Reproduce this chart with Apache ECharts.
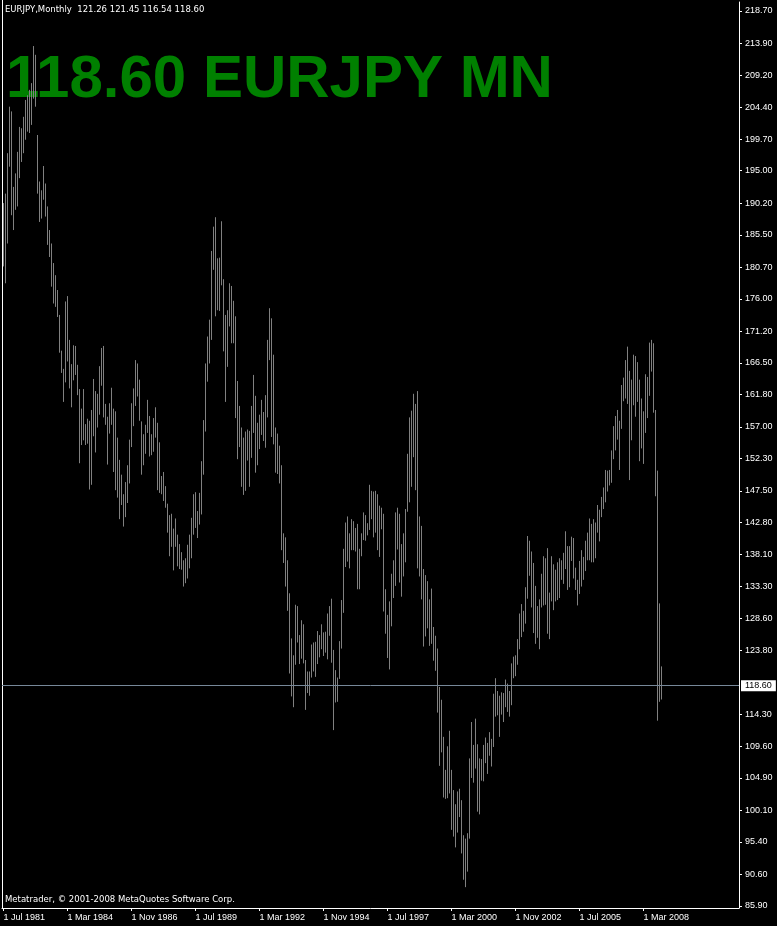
<!DOCTYPE html>
<html><head><meta charset="utf-8">
<style>html,body{margin:0;padding:0;background:#000;}#c{width:777px;height:926px;}</style>
<script src="https://cdn.jsdelivr.net/npm/echarts@6/dist/echarts.min.js"></script>
</head><body><div id="c"></div>
<script>
// Monthly EURJPY bars, starting Jul 1981 (index 0) to Dec 2008 (index 329)
const highs = [
190.2,191.6,197.6,204.5,203.8,192.6,194.6,197.8,201.5,201.3,203.0,205.5,206.2,207.0,208.0,213.5,212.2,200.3,193.4,192.1,
195.7,193.1,189.7,186.2,184.2,181.3,179.5,177.3,173.6,168.3,165.6,175.6,176.4,169.9,166.3,169.1,169.0,166.2,162.6,159.7,
162.6,157.4,158.2,157.9,159.5,164.1,162.3,161.9,166.0,168.7,169.0,160.4,158.5,160.5,162.8,159.7,159.3,155.4,152.1,149.9,
147.0,148.8,151.3,155.1,160.5,162.7,166.9,166.4,164.0,157.8,155.9,157.3,161.0,158.6,155.9,158.3,159.9,157.6,154.7,149.7,
150.3,148.2,145.6,143.9,144.1,141.9,143.4,141.0,139.6,138.4,137.2,137.5,139.5,141.0,143.5,147.0,147.3,144.5,147.2,151.9,
158.0,166.4,170.4,172.9,183.1,186.7,188.1,182.0,182.1,187.5,178.9,173.6,174.3,178.3,177.9,175.7,173.4,163.8,160.1,156.9,
155.4,156.3,156.6,156.4,160.1,164.7,161.6,157.6,158.8,161.0,159.2,161.7,169.9,174.6,173.1,167.7,156.9,156.0,154.2,151.3,
141.2,140.6,137.2,132.3,125.6,123.1,130.6,130.4,126.1,128.3,127.7,122.4,120.7,120.7,124.7,125.0,125.1,126.7,126.1,127.7,
126.5,126.6,129.3,130.4,131.5,123.9,120.9,119.8,125.2,131.3,138.9,142.8,143.7,141.2,143.3,143.0,142.0,142.6,138.9,141.2,
144.3,143.9,142.7,148.4,147.5,147.4,147.5,147.0,145.3,145.0,144.1,132.9,129.1,131.1,135.2,137.2,144.3,145.0,144.1,139.6,
141.2,144.8,153.0,158.4,159.4,161.9,160.4,162.3,143.7,142.3,135.9,135.0,134.1,131.4,133.0,127.3,126.0,124.1,118.4,116.5,
111.0,106.1,109.6,111.9,106.1,103.1,101.0,102.9,103.3,101.6,96.4,95.9,96.7,107.8,113.2,109.8,113.7,109.9,107.8,107.7,
109.8,110.9,110.1,111.7,110.7,117.4,119.7,117.8,117.1,117.6,117.5,119.5,118.9,117.8,121.9,122.9,123.1,125.5,129.3,130.7,
129.7,133.2,140.8,140.1,138.5,136.8,133.4,130.4,131.4,135.2,137.8,137.5,139.0,132.4,137.8,136.6,135.8,136.9,137.5,137.2,
138.3,141.5,139.3,139.3,140.7,140.5,136.1,134.3,137.1,138.7,137.7,140.1,141.3,143.4,142.6,143.3,142.8,145.4,144.7,146.6,
148.0,150.6,150.5,150.6,153.5,157.1,158.6,159.5,157.9,163.2,164.3,166.9,168.9,165.3,164.0,167.7,167.5,166.6,164.0,161.2,
159.3,164.8,164.4,169.5,169.9,169.4,159.5,150.5,130.8,121.45
];
const lows = [
180.8,178.3,184.2,195.6,188.4,186.2,189.2,189.7,193.9,196.3,197.6,199.6,200.8,200.6,201.8,205.7,204.5,191.6,187.4,187.9,
190.7,188.2,184.0,182.2,177.8,175.3,174.8,173.3,168.0,165.0,160.7,163.6,166.7,162.7,159.9,163.9,164.7,161.7,151.6,154.3,
155.0,154.3,154.5,147.7,148.4,155.6,153.2,156.9,158.8,163.1,158.4,157.3,151.4,156.0,157.3,150.3,147.6,146.5,143.3,145.4,
142.2,143.6,145.7,148.6,154.0,157.1,160.1,161.5,157.9,149.9,151.3,153.0,156.1,152.6,152.8,153.3,155.4,147.6,147.2,147.0,
146.0,145.0,141.3,137.8,139.2,135.7,139.2,136.3,135.9,135.8,133.3,133.8,134.5,136.0,137.5,141.0,142.0,140.5,142.5,144.0,
149.9,156.3,163.7,166.4,169.9,180.3,173.4,174.3,174.2,178.0,168.2,160.7,165.9,171.9,169.4,169.4,158.3,152.2,154.0,148.1,
146.9,147.5,152.0,148.1,152.4,156.1,150.2,151.3,153.7,155.8,154.9,153.9,158.4,166.9,155.5,154.4,150.2,150.0,148.6,138.7,
136.8,133.3,129.7,120.4,117.0,115.4,121.7,125.0,121.8,122.6,121.9,115.0,117.5,117.1,119.8,120.7,119.9,121.8,122.8,124.0,
123.0,123.5,122.5,126.0,122.0,112.0,116.1,116.2,119.6,124.1,129.4,136.2,137.0,136.0,138.7,138.7,138.5,132.9,132.9,137.8,
140.2,140.1,140.9,141.7,143.3,140.6,141.3,138.7,137.7,141.8,129.6,126.3,122.7,121.0,127.4,131.6,133.4,138.8,133.9,131.8,
134.8,136.9,144.4,145.8,148.1,152.5,147.6,136.0,134.8,131.4,124.4,125.9,127.1,124.5,124.8,122.3,120.8,114.6,106.7,108.7,
102.0,101.8,101.9,102.6,97.2,96.2,94.6,96.8,99.1,93.7,89.8,88.7,91.0,95.9,104.9,104.2,106.3,99.9,99.5,104.5,
104.4,107.1,105.5,108.2,106.6,109.5,114.0,114.2,111.0,114.3,113.2,115.4,114.7,114.0,115.7,119.7,120.0,121.7,124.0,125.8,
126.6,127.8,131.5,134.9,130.2,126.4,124.8,125.7,124.0,130.2,130.5,130.6,126.3,125.5,131.1,129.8,131.1,131.3,131.6,134.3,
133.7,135.9,132.8,133.2,137.1,134.5,132.8,130.5,132.2,133.3,134.3,135.6,137.2,137.2,136.9,136.9,137.5,141.3,140.0,143.6,
144.8,145.8,147.4,148.3,148.7,152.2,153.5,155.1,150.6,156.7,160.8,161.2,160.4,149.1,155.0,160.2,158.5,160.7,151.9,153.8,
151.5,156.1,158.3,161.6,165.2,159.1,146.7,113.4,116.2,116.54
];
const xTickIndex = [0,32,64,96,128,160,192,224,256,288,320];
const xTickLabels = ["1 Jul 1981","1 Mar 1984","1 Nov 1986","1 Jul 1989","1 Mar 1992","1 Nov 1994","1 Jul 1997","1 Mar 2000","1 Nov 2002","1 Jul 2005","1 Mar 2008"];
const yTickValues = [218.70,213.90,209.20,204.40,199.70,195.00,190.20,185.50,180.70,176.00,171.20,166.50,161.80,157.00,152.30,147.50,142.80,138.10,133.30,128.60,123.80,114.30,109.60,104.90,100.10,95.40,90.60,85.90];
const lastPrice = 118.60;
const headerText = "EURJPY,Monthly  121.26 121.45 116.54 118.60";
const bigTitle = "118.60 EURJPY MN";
const footerText = "Metatrader, \u00a9 2001-2008 MetaQuotes Software Corp.";

const barData = highs.map((h, i) => [i, h, lows[i]]);
const FONT = 'Liberation Sans';

const chart = echarts.init(document.getElementById('c'), null, {renderer: 'canvas'});
chart.setOption({
  backgroundColor: '#000000',
  animation: false,
  grid: {left: 2, right: 38, top: 2, bottom: 18, show: false},
  xAxis: {
    type: 'value', min: -0.75, max: 367.75,
    splitLine: {show: false},
    axisLine: {show: true, onZero: false, lineStyle: {color: '#ffffff', width: 1}},
    axisTick: {show: true, length: 3, customValues: xTickIndex, lineStyle: {color: '#ffffff'}},
    axisLabel: {
      customValues: xTickIndex, color: '#ffffff', fontFamily: FONT, fontSize: 9, margin: 5, align: 'left',
      formatter: v => xTickLabels[xTickIndex.indexOf(Math.round(v))] || ''
    }
  },
  yAxis: {
    type: 'value', position: 'right', min: 85.605, max: 220.035, scale: true,
    splitLine: {show: false},
    axisLine: {show: true, onZero: false, lineStyle: {color: '#ffffff', width: 1}},
    axisTick: {show: true, length: 3, customValues: yTickValues, lineStyle: {color: '#ffffff'}},
    axisLabel: {
      customValues: yTickValues, color: '#ffffff', fontFamily: FONT, fontSize: 9, margin: 6,
      formatter: v => v.toFixed(2)
    }
  },
  series: [{
    type: 'custom',
    data: barData,
    encode: {x: 0, y: [1, 2]},
    clip: false,
    renderItem: function (params, api) {
      const i = api.value(0);
      const top = api.coord([i, api.value(1)]);
      const bot = api.coord([i, api.value(2)]);
      return {type: 'line', shape: {x1: top[0], y1: top[1], x2: bot[0], y2: bot[1]},
        style: {stroke: '#808080', lineWidth: 1}};
    },
    markLine: {
      silent: true, symbol: ['none', 'none'], animation: false,
      lineStyle: {color: '#778899', width: 1, type: 'solid'},
      label: {show: true, position: 'end', distance: 2, formatter: lastPrice.toFixed(2),
        color: '#000000', backgroundColor: '#ffffff', fontFamily: FONT, fontSize: 9, padding: [1, 4, 1, 4]},
      data: [{yAxis: lastPrice}]
    }
  }],
  graphic: [
    {type: 'line', shape: {x1: 2.5, y1: 0, x2: 2.5, y2: 908}, style: {stroke: '#ffffff', lineWidth: 1}, silent: true},
    {type: 'text', left: 5, top: 5, style: {text: headerText, fill: '#ffffff', font: '8.5px "DejaVu Sans"'}},
    {type: 'text', left: 6, top: 50, style: {text: bigTitle, fill: '#008000', font: 'bold 60px "Liberation Sans"'}},
    {type: 'text', left: 5, top: 895, style: {text: footerText, fill: '#ffffff', font: '8.5px "DejaVu Sans"'}}
  ]
});
</script>
</body></html>
